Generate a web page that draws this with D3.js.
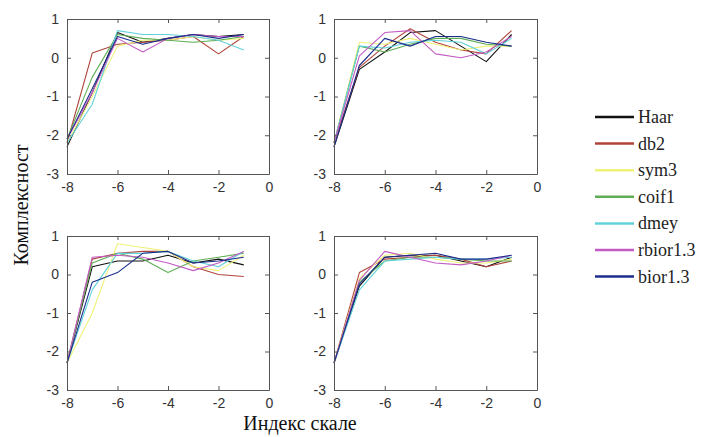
<!DOCTYPE html>
<html><head><meta charset="utf-8">
<script src="https://cdn.jsdelivr.net/npm/d3@7"></script>
<style>body{margin:0;background:#fff}svg{display:block}
.serif{font-family:'Liberation Serif','Times New Roman',serif}</style>
</head><body>
<svg id="c" width="704" height="437"></svg>
<script>
const xs = [-8,-7,-6,-5,-4,-3,-2,-1];
const seriesNames = ["Haar","db2","sym3","coif1","dmey","rbior1.3","bior1.3"];
const seriesColors = ["#111111","#b0443a","#eef27a","#5fae55","#62d2da","#c25cc4","#1c2c8c"];
const xTicks = [-8,-6,-4,-2,0];
const yTicks = [-3,-2,-1,0,1];

// panel 1 (top-left)
const p1 = [
  [-2.3,-0.9,0.65,0.4,0.5,0.6,0.55,0.6],
  [-2.2,0.12,0.35,0.4,0.45,0.55,0.1,0.55],
  [-2.2,-1.0,0.3,0.45,0.45,0.55,0.45,0.5],
  [-2.1,-0.5,0.6,0.5,0.45,0.4,0.45,0.55],
  [-2.2,-1.2,0.7,0.6,0.6,0.55,0.45,0.2],
  [-2.1,-0.9,0.5,0.15,0.5,0.6,0.55,0.55],
  [-2.1,-0.8,0.55,0.35,0.5,0.6,0.5,0.6]
];
// panel 2 (top-right)
const p2 = [
  [-2.3,-0.3,0.15,0.65,0.7,0.3,-0.1,0.6],
  [-2.2,-0.25,0.3,0.75,0.4,0.2,0.1,0.7],
  [-2.2,0.4,0.35,0.5,0.35,0.2,0.3,0.3],
  [-2.2,0.3,0.15,0.35,0.5,0.5,0.35,0.3],
  [-2.2,0.3,0.25,0.4,0.45,0.4,0.1,0.5],
  [-2.2,0.05,0.65,0.7,0.1,0.0,0.15,0.55],
  [-2.3,-0.2,0.5,0.3,0.55,0.55,0.4,0.3]
];
// panel 3 (bottom-left)
const p3 = [
  [-2.3,0.2,0.35,0.35,0.5,0.3,0.4,0.25],
  [-2.3,0.4,0.55,0.6,0.6,0.2,0.0,-0.05],
  [-2.3,-1.0,0.8,0.7,0.6,0.2,0.1,0.5],
  [-2.3,0.3,0.55,0.4,0.05,0.35,0.45,0.55],
  [-2.3,-0.4,0.55,0.55,0.6,0.35,0.2,0.6],
  [-2.3,0.45,0.5,0.45,0.3,0.1,0.3,0.6],
  [-2.3,-0.2,0.05,0.55,0.6,0.3,0.35,0.45]
];
// panel 4 (bottom-right)
const p4 = [
  [-2.3,-0.3,0.45,0.5,0.5,0.35,0.2,0.45],
  [-2.3,0.05,0.4,0.45,0.5,0.4,0.2,0.35],
  [-2.3,-0.1,0.5,0.55,0.4,0.3,0.3,0.4],
  [-2.3,-0.2,0.35,0.45,0.45,0.4,0.35,0.35],
  [-2.3,-0.4,0.35,0.4,0.45,0.4,0.4,0.45],
  [-2.3,-0.15,0.6,0.45,0.3,0.25,0.35,0.5],
  [-2.3,-0.25,0.45,0.5,0.55,0.4,0.4,0.5]
];

const panels = [
  {data:p1, x0:67, x1:269, y0:19, y1:174},
  {data:p2, x0:334, x1:537, y0:19, y1:174},
  {data:p3, x0:67, x1:269, y0:236, y1:390},
  {data:p4, x0:334, x1:537, y0:236, y1:390}
];

const svg = d3.select("#c");
const axisCol = "#555";

panels.forEach(p => {
  const x = d3.scaleLinear().domain([-8,0]).range([p.x0,p.x1]);
  const y = d3.scaleLinear().domain([-3,1]).range([p.y1,p.y0]);
  const g = svg.append("g");
  const line = d3.line().x((d,i)=>x(xs[i])).y(d=>y(d));
  p.data.forEach((s,k) => {
    g.append("path").attr("d", line(s)).attr("fill","none")
      .attr("stroke", seriesColors[k]).attr("stroke-width",1.1).attr("stroke-linejoin","round");
  });
  const ax = (a, sc, ticks, tr, lab) => {
    const gg = g.append("g").attr("transform", tr)
      .call(a(sc).tickValues(ticks).tickSizeInner(-4).tickSizeOuter(0).tickPadding(8)
        .tickFormat(lab ? (d => String(d)) : ""));
    gg.select(".domain").attr("stroke", axisCol);
    gg.selectAll(".tick line").attr("stroke", axisCol);
    gg.selectAll("text").attr("fill","#333").style("font-family","'Liberation Sans', Arial, sans-serif").style("font-size","14px");
    return gg;
  };
  ax(d3.axisBottom, x, xTicks, `translate(0,${p.y1})`, true);
  ax(d3.axisTop, x, xTicks, `translate(0,${p.y0})`, false);
  ax(d3.axisLeft, y, yTicks, `translate(${p.x0},0)`, true);
  ax(d3.axisRight, y, yTicks, `translate(${p.x1},0)`, false);
});

svg.append("text").attr("class","serif").attr("x",300).attr("y",430).attr("text-anchor","middle")
  .style("font-size","20px").attr("fill","#111")
  .text("Индекс скале");
svg.append("text").attr("class","serif").attr("transform","translate(28,205) rotate(-90)").attr("text-anchor","middle")
  .style("font-size","20px").attr("fill","#111")
  .text("Комплексност");

const lg = svg.append("g");
seriesNames.forEach((n,i) => {
  const yy = 117 + i*26.6;
  lg.append("line").attr("x1",595).attr("x2",634).attr("y1",yy).attr("y2",yy)
    .attr("stroke",seriesColors[i]).attr("stroke-width",2.5);
  lg.append("text").attr("class","serif").attr("x",638).attr("y",yy+6)
    .style("font-size","18px").attr("fill","#222")
    .text(n);
});
</script>
</body></html>
